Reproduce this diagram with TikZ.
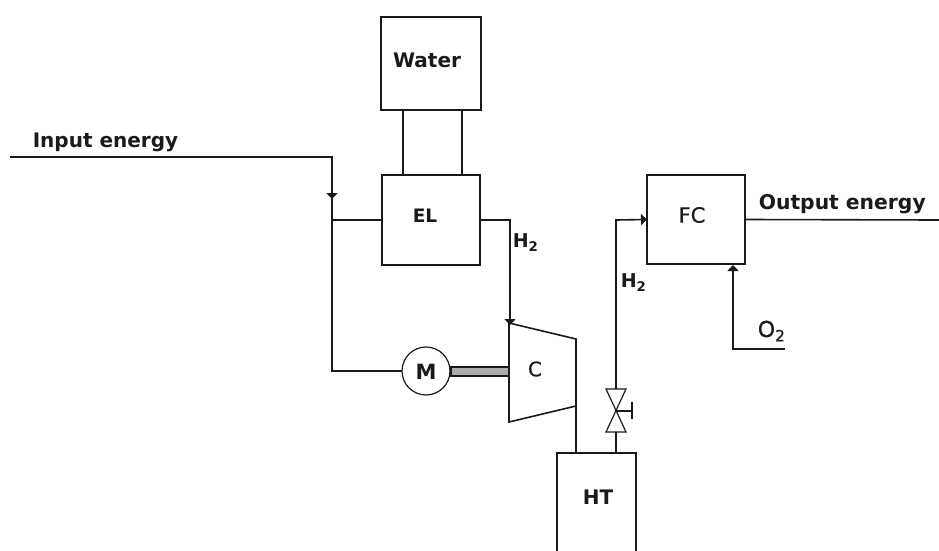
\documentclass[tikz,border=0pt]{standalone}
\usepackage{fontspec}
\setmainfont{DejaVu Sans}
\newfontfamily\medfont[FakeBold=0.6]{DejaVu Sans}
\usetikzlibrary{arrows.meta,calc}
\definecolor{ink}{HTML}{1A1A1A}
\tikzset{
  x=1pt,y=-1pt,
  every path/.style={line width=1.6pt,draw=ink},
  box/.style={draw=ink,line width=1.6pt,minimum width=#1,inner sep=0pt,outer sep=0pt},
  lab/.style={draw=none,inner sep=0pt,text=ink,font=\fontsize{#1}{#1}\selectfont\bfseries},
  medlab/.style={draw=none,inner sep=0pt,text=ink,font=\fontsize{#1}{#1}\selectfont\medfont},
  flow/.style={-{Triangle[length=6pt,width=11pt]}},
}
\begin{document}
\begin{tikzpicture}
\useasboundingbox[draw=none] (0,0) rectangle (939,551);
\node[box=100pt,minimum height=93pt,anchor=north west] (water) at (381,17) {};
\node[box=98pt,minimum height=90pt,anchor=north west] (el) at (382,175) {};
\node[box=98pt,minimum height=89pt,anchor=north west] (fc) at (647,175) {};
\node[draw=ink,line width=1.2pt,circle,minimum size=48pt,inner sep=0pt,outer sep=0pt] (m) at (426,371) {};
\coordinate (c1) at (509,323);
\coordinate (c2) at (576,339);
\coordinate (c3) at (576,406);
\coordinate (c4) at (509,422);
\draw (c1) -- (c2) -- (c3) -- (c4) -- cycle;
\coordinate (ht1) at (557,551);
\coordinate (ht2) at (557,453);
\coordinate (ht3) at (636,453);
\coordinate (ht4) at (636,551);
\draw (ht1) -- (ht2) -- (ht3) -- (ht4);
% water to EL
\draw (403,110) -- (403,175);
\draw (462,110) -- (462,175);
% input
\coordinate (in) at (10,157);
\coordinate (corner) at (332,157);
\coordinate (junction) at (332,220);
\coordinate (mleft) at (332,371);
\draw[flow] (in) -- (corner) -- (332,199);
\draw (332,190) -- (junction) -- (mleft) -- (m.west);
\draw (junction) -- (el.west);
% H2 to compressor
\coordinate (hc) at (510,220);
\coordinate (ca) at (510,325);
\draw[flow] (el.east) -- (hc) -- (ca);
% shaft
\draw[fill=black!32,draw=ink,line width=1.3pt] (451,367) rectangle (509,376);
% compressor to tank
\coordinate (cb) at (576,453);
\draw (c3) -- (cb);
% valve
\coordinate (vt) at (616,389);
\coordinate (vc) at (616,411);
\coordinate (vb) at (616,432);
\coordinate (vs) at (632,411);
\coordinate (vh) at (616,453);
\coordinate (vf) at (616,220);
\draw[line width=1.2pt] (606,389) -- (626,389) -- (606,432) -- (626,432) -- cycle;
\draw (vc) -- (vs);
\draw (632,402) -- (632,419);
\draw (vh) -- (vb);
\draw[flow] (vt) -- (vf) -- (fc.west);
% output
\coordinate (out) at (939,220);
\draw (fc.east) -- (out);
% O2
\coordinate (o2end) at (785,349);
\coordinate (o2c) at (733,349);
\coordinate (o2t) at (733,265);
\draw[flow] (o2end) -- (o2c) -- (o2t);
% labels
\node[lab=20,anchor=west] at (32,142) {Input energy};
\node[lab=20.3,anchor=west] at (758,204) {Output energy};
\node[lab=20] at (427,60) {Water};
\node[lab=18.5] at (425,216) {EL};
\node[medlab=21] at (692,215) {FC};
\node[medlab=20] at (535,369) {C};
\node[lab=21] at (426,372) {M};
\node[lab=20] at (598,497) {HT};
\node[lab=19,anchor=west] at (512,243) {H\textsubscript{2}};
\node[lab=19,anchor=west] at (620,283) {H\textsubscript{2}};
\node[medlab=22,anchor=west] at (757,331) {O\textsubscript{2}};
\end{tikzpicture}
\end{document}
